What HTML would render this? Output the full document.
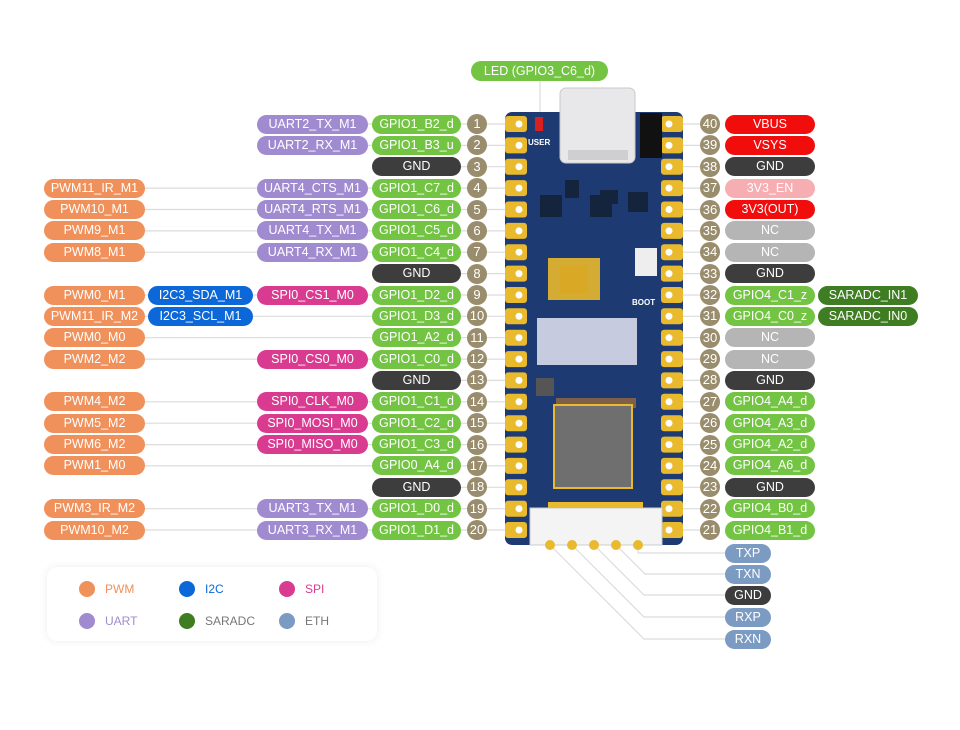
<!DOCTYPE html>
<html><head><meta charset="utf-8"><style>
body{margin:0;width:960px;height:730px;background:#fff;position:relative;overflow:hidden;font-family:"Liberation Sans",sans-serif}
.p{position:absolute;height:19px;border-radius:10px;color:#fff;font-size:12.5px;text-align:center;line-height:19px;white-space:nowrap}
.n{position:absolute;width:20px;height:20px;border-radius:10px;background:#9a8d6d;color:#fff;font-size:13px;text-align:center;line-height:20px}
.g{background:#72c442}.u{background:#a08bd0}.w{background:#f0905a}.i{background:#0c68d8}.s{background:#d93b91}.k{background:#3d3d3d}.r{background:#f20d0d}.e{background:#f7aeb2}.c{background:#b5b5b5}.d{background:#3f7d22}.t{background:#7b9bc2}
svg{position:absolute;left:0;top:0}
.leg{position:absolute;left:47px;top:567px;width:330px;height:74px;background:#fff;border-radius:10px;box-shadow:0 0 8px rgba(0,0,0,0.08)}
.dot{position:absolute;width:16px;height:16px;border-radius:8px}
.lt{position:absolute;font-size:12px}
</style></head><body>
<svg width="960" height="730">
<g stroke="#dcdcdc" stroke-width="1.2" fill="none">
<line x1="368" y1="124" x2="510" y2="124"/><line x1="368" y1="145.4" x2="510" y2="145.4"/>
<line x1="461" y1="166.7" x2="510" y2="166.7"/>
<line x1="145" y1="188.1" x2="510" y2="188.1"/><line x1="145" y1="209.5" x2="510" y2="209.5"/>
<line x1="145" y1="230.9" x2="510" y2="230.9"/><line x1="145" y1="252.2" x2="510" y2="252.2"/>
<line x1="461" y1="273.6" x2="510" y2="273.6"/><line x1="145" y1="295" x2="510" y2="295"/>
<line x1="145" y1="316.3" x2="510" y2="316.3"/><line x1="145" y1="337.7" x2="510" y2="337.7"/>
<line x1="145" y1="359.1" x2="510" y2="359.1"/><line x1="461" y1="380.4" x2="510" y2="380.4"/>
<line x1="145" y1="401.8" x2="510" y2="401.8"/><line x1="145" y1="423.2" x2="510" y2="423.2"/>
<line x1="145" y1="444.6" x2="510" y2="444.6"/><line x1="145" y1="465.9" x2="510" y2="465.9"/>
<line x1="461" y1="487.3" x2="510" y2="487.3"/><line x1="145" y1="508.7" x2="510" y2="508.7"/>
<line x1="145" y1="530" x2="510" y2="530"/>
<line x1="678" y1="124" x2="720" y2="124"/><line x1="678" y1="145.4" x2="720" y2="145.4"/><line x1="678" y1="166.7" x2="720" y2="166.7"/><line x1="678" y1="188.1" x2="720" y2="188.1"/><line x1="678" y1="209.5" x2="720" y2="209.5"/><line x1="678" y1="230.9" x2="720" y2="230.9"/><line x1="678" y1="252.2" x2="720" y2="252.2"/><line x1="678" y1="273.6" x2="720" y2="273.6"/><line x1="678" y1="295" x2="720" y2="295"/><line x1="678" y1="316.3" x2="720" y2="316.3"/><line x1="678" y1="337.7" x2="720" y2="337.7"/><line x1="678" y1="359.1" x2="720" y2="359.1"/><line x1="678" y1="380.4" x2="720" y2="380.4"/><line x1="678" y1="401.8" x2="720" y2="401.8"/><line x1="678" y1="423.2" x2="720" y2="423.2"/><line x1="678" y1="444.6" x2="720" y2="444.6"/><line x1="678" y1="465.9" x2="720" y2="465.9"/><line x1="678" y1="487.3" x2="720" y2="487.3"/><line x1="678" y1="508.7" x2="720" y2="508.7"/><line x1="678" y1="530" x2="720" y2="530"/>
<polyline points="638,545 638,553 730,553"/>
<polyline points="616,545 645,574 730,574"/>
<polyline points="594,545 644,595 730,595"/>
<polyline points="572,545 644,617 730,617"/>
<polyline points="550,545 644,639 730,639"/>
<line x1="540" y1="78" x2="540" y2="118"/>
</g>
<rect x="505" y="112" width="178" height="433" rx="7" fill="#1d3b72"/>
<g fill="#e9b92e">
<rect x="505" y="116" width="22" height="16" rx="3"/><rect x="505" y="137.4" width="22" height="16" rx="3"/><rect x="505" y="158.7" width="22" height="16" rx="3"/><rect x="505" y="180.1" width="22" height="16" rx="3"/><rect x="505" y="201.5" width="22" height="16" rx="3"/><rect x="505" y="222.9" width="22" height="16" rx="3"/><rect x="505" y="244.2" width="22" height="16" rx="3"/><rect x="505" y="265.6" width="22" height="16" rx="3"/><rect x="505" y="287" width="22" height="16" rx="3"/><rect x="505" y="308.3" width="22" height="16" rx="3"/><rect x="505" y="329.7" width="22" height="16" rx="3"/><rect x="505" y="351.1" width="22" height="16" rx="3"/><rect x="505" y="372.4" width="22" height="16" rx="3"/><rect x="505" y="393.8" width="22" height="16" rx="3"/><rect x="505" y="415.2" width="22" height="16" rx="3"/><rect x="505" y="436.6" width="22" height="16" rx="3"/><rect x="505" y="457.9" width="22" height="16" rx="3"/><rect x="505" y="479.3" width="22" height="16" rx="3"/><rect x="505" y="500.7" width="22" height="16" rx="3"/><rect x="505" y="522" width="22" height="16" rx="3"/>
<rect x="661" y="116" width="22" height="16" rx="3"/><rect x="661" y="137.4" width="22" height="16" rx="3"/><rect x="661" y="158.7" width="22" height="16" rx="3"/><rect x="661" y="180.1" width="22" height="16" rx="3"/><rect x="661" y="201.5" width="22" height="16" rx="3"/><rect x="661" y="222.9" width="22" height="16" rx="3"/><rect x="661" y="244.2" width="22" height="16" rx="3"/><rect x="661" y="265.6" width="22" height="16" rx="3"/><rect x="661" y="287" width="22" height="16" rx="3"/><rect x="661" y="308.3" width="22" height="16" rx="3"/><rect x="661" y="329.7" width="22" height="16" rx="3"/><rect x="661" y="351.1" width="22" height="16" rx="3"/><rect x="661" y="372.4" width="22" height="16" rx="3"/><rect x="661" y="393.8" width="22" height="16" rx="3"/><rect x="661" y="415.2" width="22" height="16" rx="3"/><rect x="661" y="436.6" width="22" height="16" rx="3"/><rect x="661" y="457.9" width="22" height="16" rx="3"/><rect x="661" y="479.3" width="22" height="16" rx="3"/><rect x="661" y="500.7" width="22" height="16" rx="3"/><rect x="661" y="522" width="22" height="16" rx="3"/>
</g>
<g fill="#fff">
<circle cx="519" cy="124" r="3.5"/><circle cx="519" cy="145.4" r="3.5"/><circle cx="519" cy="166.7" r="3.5"/><circle cx="519" cy="188.1" r="3.5"/><circle cx="519" cy="209.5" r="3.5"/><circle cx="519" cy="230.9" r="3.5"/><circle cx="519" cy="252.2" r="3.5"/><circle cx="519" cy="273.6" r="3.5"/><circle cx="519" cy="295" r="3.5"/><circle cx="519" cy="316.3" r="3.5"/><circle cx="519" cy="337.7" r="3.5"/><circle cx="519" cy="359.1" r="3.5"/><circle cx="519" cy="380.4" r="3.5"/><circle cx="519" cy="401.8" r="3.5"/><circle cx="519" cy="423.2" r="3.5"/><circle cx="519" cy="444.6" r="3.5"/><circle cx="519" cy="465.9" r="3.5"/><circle cx="519" cy="487.3" r="3.5"/><circle cx="519" cy="508.7" r="3.5"/><circle cx="519" cy="530" r="3.5"/>
<circle cx="669" cy="124" r="3.5"/><circle cx="669" cy="145.4" r="3.5"/><circle cx="669" cy="166.7" r="3.5"/><circle cx="669" cy="188.1" r="3.5"/><circle cx="669" cy="209.5" r="3.5"/><circle cx="669" cy="230.9" r="3.5"/><circle cx="669" cy="252.2" r="3.5"/><circle cx="669" cy="273.6" r="3.5"/><circle cx="669" cy="295" r="3.5"/><circle cx="669" cy="316.3" r="3.5"/><circle cx="669" cy="337.7" r="3.5"/><circle cx="669" cy="359.1" r="3.5"/><circle cx="669" cy="380.4" r="3.5"/><circle cx="669" cy="401.8" r="3.5"/><circle cx="669" cy="423.2" r="3.5"/><circle cx="669" cy="444.6" r="3.5"/><circle cx="669" cy="465.9" r="3.5"/><circle cx="669" cy="487.3" r="3.5"/><circle cx="669" cy="508.7" r="3.5"/><circle cx="669" cy="530" r="3.5"/>
</g>
<rect x="560" y="88" width="75" height="75" rx="6" fill="#e8e8ea" stroke="#c9c9cc"/>
<rect x="568" y="150" width="60" height="10" fill="#cfcfd2"/>
<rect x="640" y="113" width="22" height="45" fill="#111"/>
<rect x="535" y="117" width="8" height="14" fill="#d92020"/>
<text x="528" y="145" font-size="8" fill="#fff" font-weight="bold" font-family="Liberation Sans">USER</text>
<rect x="540" y="195" width="22" height="22" fill="#15243d"/>
<rect x="590" y="195" width="22" height="22" fill="#15243d"/>
<rect x="628" y="192" width="20" height="20" fill="#15243d"/>
<rect x="565" y="180" width="14" height="18" fill="#15243d"/>
<rect x="600" y="190" width="18" height="14" fill="#15243d"/>
<rect x="548" y="258" width="52" height="42" fill="#e9b92e" opacity="0.9"/>
<rect x="560" y="265" width="28" height="28" fill="#d9a824"/>
<rect x="635" y="248" width="22" height="28" fill="#eeeeee"/>
<text x="632" y="305" font-size="8" fill="#fff" font-weight="bold" font-family="Liberation Sans">BOOT</text>
<rect x="537" y="318" width="100" height="47" fill="#c6cbe0"/>
<rect x="536" y="378" width="18" height="18" fill="#555"/>
<rect x="556" y="398" width="80" height="10" fill="#c07a30" opacity="0.6"/>
<rect x="553" y="404" width="80" height="85" fill="#e9b92e"/>
<rect x="555" y="406" width="76" height="81" fill="#6f6f70"/>
<rect x="530" y="508" width="132" height="37" fill="#f4f4f4" stroke="#ccc"/>
<rect x="548" y="502" width="95" height="6" fill="#e9b92e"/>
<g fill="#e9b92e"><circle cx="550" cy="545" r="5"/><circle cx="572" cy="545" r="5"/><circle cx="594" cy="545" r="5"/><circle cx="616" cy="545" r="5"/><circle cx="638" cy="545" r="5"/></g>
</svg>

<div class="p g" style="left:471px;top:61px;width:137px;height:20px;line-height:20px">LED (GPIO3_C6_d)</div>

<div class="n" style="left:467px;top:114px">1</div>
<div class="n" style="left:467px;top:135.4px">2</div>
<div class="n" style="left:467px;top:156.7px">3</div>
<div class="n" style="left:467px;top:178.1px">4</div>
<div class="n" style="left:467px;top:199.5px">5</div>
<div class="n" style="left:467px;top:220.9px">6</div>
<div class="n" style="left:467px;top:242.2px">7</div>
<div class="n" style="left:467px;top:263.6px">8</div>
<div class="n" style="left:467px;top:285px">9</div>
<div class="n" style="left:467px;top:306.3px">10</div>
<div class="n" style="left:467px;top:327.7px">11</div>
<div class="n" style="left:467px;top:349.1px">12</div>
<div class="n" style="left:467px;top:370.4px">13</div>
<div class="n" style="left:467px;top:391.8px">14</div>
<div class="n" style="left:467px;top:413.2px">15</div>
<div class="n" style="left:467px;top:434.6px">16</div>
<div class="n" style="left:467px;top:455.9px">17</div>
<div class="n" style="left:467px;top:477.3px">18</div>
<div class="n" style="left:467px;top:498.7px">19</div>
<div class="n" style="left:467px;top:520px">20</div>

<div class="p g" style="left:372px;top:114.5px;width:89px">GPIO1_B2_d</div>
<div class="p g" style="left:372px;top:135.9px;width:89px">GPIO1_B3_u</div>
<div class="p k" style="left:372px;top:157.2px;width:89px">GND</div>
<div class="p g" style="left:372px;top:178.6px;width:89px">GPIO1_C7_d</div>
<div class="p g" style="left:372px;top:200px;width:89px">GPIO1_C6_d</div>
<div class="p g" style="left:372px;top:221.4px;width:89px">GPIO1_C5_d</div>
<div class="p g" style="left:372px;top:242.7px;width:89px">GPIO1_C4_d</div>
<div class="p k" style="left:372px;top:264.1px;width:89px">GND</div>
<div class="p g" style="left:372px;top:285.5px;width:89px">GPIO1_D2_d</div>
<div class="p g" style="left:372px;top:306.8px;width:89px">GPIO1_D3_d</div>
<div class="p g" style="left:372px;top:328.2px;width:89px">GPIO1_A2_d</div>
<div class="p g" style="left:372px;top:349.6px;width:89px">GPIO1_C0_d</div>
<div class="p k" style="left:372px;top:370.9px;width:89px">GND</div>
<div class="p g" style="left:372px;top:392.3px;width:89px">GPIO1_C1_d</div>
<div class="p g" style="left:372px;top:413.7px;width:89px">GPIO1_C2_d</div>
<div class="p g" style="left:372px;top:435.1px;width:89px">GPIO1_C3_d</div>
<div class="p g" style="left:372px;top:456.4px;width:89px">GPIO0_A4_d</div>
<div class="p k" style="left:372px;top:477.8px;width:89px">GND</div>
<div class="p g" style="left:372px;top:499.2px;width:89px">GPIO1_D0_d</div>
<div class="p g" style="left:372px;top:520.5px;width:89px">GPIO1_D1_d</div>

<div class="p u" style="left:257px;top:114.5px;width:111px">UART2_TX_M1</div>
<div class="p u" style="left:257px;top:135.9px;width:111px">UART2_RX_M1</div>
<div class="p u" style="left:257px;top:178.6px;width:111px">UART4_CTS_M1</div>
<div class="p u" style="left:257px;top:200px;width:111px">UART4_RTS_M1</div>
<div class="p u" style="left:257px;top:221.4px;width:111px">UART4_TX_M1</div>
<div class="p u" style="left:257px;top:242.7px;width:111px">UART4_RX_M1</div>
<div class="p s" style="left:257px;top:285.5px;width:111px">SPI0_CS1_M0</div>
<div class="p s" style="left:257px;top:349.6px;width:111px">SPI0_CS0_M0</div>
<div class="p s" style="left:257px;top:392.3px;width:111px">SPI0_CLK_M0</div>
<div class="p s" style="left:257px;top:413.7px;width:111px">SPI0_MOSI_M0</div>
<div class="p s" style="left:257px;top:435.1px;width:111px">SPI0_MISO_M0</div>
<div class="p u" style="left:257px;top:499.2px;width:111px">UART3_TX_M1</div>
<div class="p u" style="left:257px;top:520.5px;width:111px">UART3_RX_M1</div>

<div class="p i" style="left:148px;top:285.5px;width:105px">I2C3_SDA_M1</div>
<div class="p i" style="left:148px;top:306.8px;width:105px">I2C3_SCL_M1</div>

<div class="p w" style="left:44px;top:178.6px;width:101px">PWM11_IR_M1</div>
<div class="p w" style="left:44px;top:200px;width:101px">PWM10_M1</div>
<div class="p w" style="left:44px;top:221.4px;width:101px">PWM9_M1</div>
<div class="p w" style="left:44px;top:242.7px;width:101px">PWM8_M1</div>
<div class="p w" style="left:44px;top:285.5px;width:101px">PWM0_M1</div>
<div class="p w" style="left:44px;top:306.8px;width:101px">PWM11_IR_M2</div>
<div class="p w" style="left:44px;top:328.2px;width:101px">PWM0_M0</div>
<div class="p w" style="left:44px;top:349.6px;width:101px">PWM2_M2</div>
<div class="p w" style="left:44px;top:392.3px;width:101px">PWM4_M2</div>
<div class="p w" style="left:44px;top:413.7px;width:101px">PWM5_M2</div>
<div class="p w" style="left:44px;top:435.1px;width:101px">PWM6_M2</div>
<div class="p w" style="left:44px;top:456.4px;width:101px">PWM1_M0</div>
<div class="p w" style="left:44px;top:499.2px;width:101px">PWM3_IR_M2</div>
<div class="p w" style="left:44px;top:520.5px;width:101px">PWM10_M2</div>

<div class="n" style="left:700px;top:114px">40</div>
<div class="n" style="left:700px;top:135.4px">39</div>
<div class="n" style="left:700px;top:156.7px">38</div>
<div class="n" style="left:700px;top:178.1px">37</div>
<div class="n" style="left:700px;top:199.5px">36</div>
<div class="n" style="left:700px;top:220.9px">35</div>
<div class="n" style="left:700px;top:242.2px">34</div>
<div class="n" style="left:700px;top:263.6px">33</div>
<div class="n" style="left:700px;top:285px">32</div>
<div class="n" style="left:700px;top:306.3px">31</div>
<div class="n" style="left:700px;top:327.7px">30</div>
<div class="n" style="left:700px;top:349.1px">29</div>
<div class="n" style="left:700px;top:370.4px">28</div>
<div class="n" style="left:700px;top:391.8px">27</div>
<div class="n" style="left:700px;top:413.2px">26</div>
<div class="n" style="left:700px;top:434.6px">25</div>
<div class="n" style="left:700px;top:455.9px">24</div>
<div class="n" style="left:700px;top:477.3px">23</div>
<div class="n" style="left:700px;top:498.7px">22</div>
<div class="n" style="left:700px;top:520px">21</div>

<div class="p r" style="left:725px;top:114.5px;width:90px">VBUS</div>
<div class="p r" style="left:725px;top:135.9px;width:90px">VSYS</div>
<div class="p k" style="left:725px;top:157.2px;width:90px">GND</div>
<div class="p e" style="left:725px;top:178.6px;width:90px">3V3_EN</div>
<div class="p r" style="left:725px;top:200px;width:90px">3V3(OUT)</div>
<div class="p c" style="left:725px;top:221.4px;width:90px">NC</div>
<div class="p c" style="left:725px;top:242.7px;width:90px">NC</div>
<div class="p k" style="left:725px;top:264.1px;width:90px">GND</div>
<div class="p g" style="left:725px;top:285.5px;width:90px">GPIO4_C1_z</div>
<div class="p g" style="left:725px;top:306.8px;width:90px">GPIO4_C0_z</div>
<div class="p c" style="left:725px;top:328.2px;width:90px">NC</div>
<div class="p c" style="left:725px;top:349.6px;width:90px">NC</div>
<div class="p k" style="left:725px;top:370.9px;width:90px">GND</div>
<div class="p g" style="left:725px;top:392.3px;width:90px">GPIO4_A4_d</div>
<div class="p g" style="left:725px;top:413.7px;width:90px">GPIO4_A3_d</div>
<div class="p g" style="left:725px;top:435.1px;width:90px">GPIO4_A2_d</div>
<div class="p g" style="left:725px;top:456.4px;width:90px">GPIO4_A6_d</div>
<div class="p k" style="left:725px;top:477.8px;width:90px">GND</div>
<div class="p g" style="left:725px;top:499.2px;width:90px">GPIO4_B0_d</div>
<div class="p g" style="left:725px;top:520.5px;width:90px">GPIO4_B1_d</div>
<div class="p d" style="left:818px;top:285.5px;width:100px">SARADC_IN1</div>
<div class="p d" style="left:818px;top:306.8px;width:100px">SARADC_IN0</div>

<div class="p t" style="left:725px;top:543.5px;width:46px">TXP</div>
<div class="p t" style="left:725px;top:564.5px;width:46px">TXN</div>
<div class="p k" style="left:725px;top:585.5px;width:46px">GND</div>
<div class="p t" style="left:725px;top:607.5px;width:46px">RXP</div>
<div class="p t" style="left:725px;top:629.5px;width:46px">RXN</div>

<div class="leg">
<div class="dot" style="left:32px;top:14px;background:#f0905a"></div><div class="lt" style="left:58px;top:15px;color:#f0905a">PWM</div>
<div class="dot" style="left:132px;top:14px;background:#0c68d8"></div><div class="lt" style="left:158px;top:15px;color:#0c68d8">I2C</div>
<div class="dot" style="left:232px;top:14px;background:#d93b91"></div><div class="lt" style="left:258px;top:15px;color:#d93b91">SPI</div>
<div class="dot" style="left:32px;top:46px;background:#a08bd0"></div><div class="lt" style="left:58px;top:47px;color:#a08bd0">UART</div>
<div class="dot" style="left:132px;top:46px;background:#3f7d22"></div><div class="lt" style="left:158px;top:47px;color:#777">SARADC</div>
<div class="dot" style="left:232px;top:46px;background:#7b9bc2"></div><div class="lt" style="left:258px;top:47px;color:#777">ETH</div>
</div>
</body></html>
